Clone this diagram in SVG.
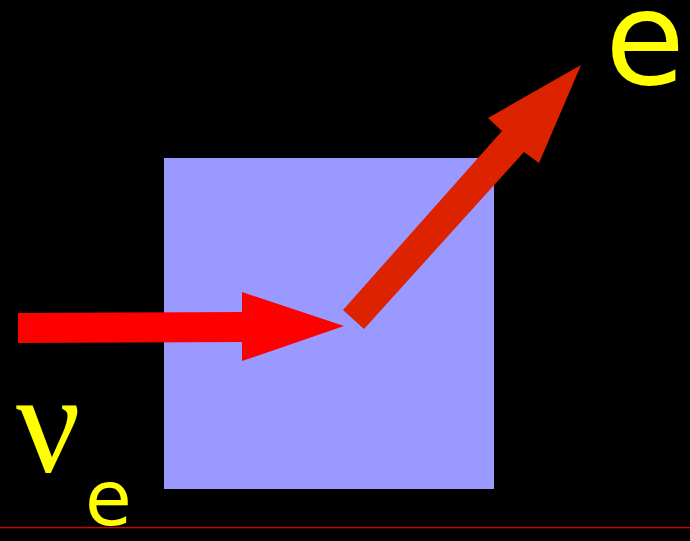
<svg xmlns="http://www.w3.org/2000/svg" width="690" height="541" viewBox="0 0 690 541">
<style>
.lbl{fill:#ffff00}
.sans{font-family:"DejaVu Sans","Liberation Sans",sans-serif}
.serif{font-family:"Liberation Serif","Times New Roman",serif}
</style>
<rect x="0" y="0" width="690" height="541" fill="#000"/>
<g id="target"><rect x="164" y="158" width="330" height="331" fill="#9999ff"/></g>
<g id="baseline"><rect x="0" y="527" width="690" height="1.3" fill="#dd0000"/></g>
<g id="connectors">
<polygon points="18,313 242,312 242,292 344,326 242,361 242,342 18,343" fill="#ff0000"/>
<polygon points="343,310 502,131 488,118 581,65 539,163 524,152 364,329" fill="#dd2200"/>
</g>
<g id="nu"><text class="lbl serif" x="16" y="472" font-size="143">ν</text></g>
<g id="nu-sub"><text class="lbl sans" x="85" y="525" font-size="76">e</text></g>
<g id="electron"><text class="lbl sans" x="605" y="84" font-size="130">e</text></g>
</svg>
